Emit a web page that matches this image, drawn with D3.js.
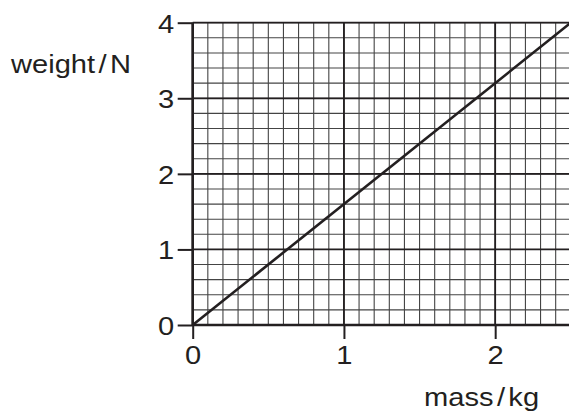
<!DOCTYPE html>
<html><head><meta charset="utf-8">
<script src="https://cdn.jsdelivr.net/npm/d3@7"></script>
<style>body{margin:0;background:#fff}svg{display:block}text{font-family:"Liberation Sans",Arial,sans-serif;fill:#231f20}</style>
</head><body>
<script>
const xTicks = [0, 1, 2];
const yTicks = [0, 1, 2, 3, 4];
const xDomain = [0, 2.5];
const yDomain = [0, 4];
const lineMass = [0, 2.5];
const lineWeight = [0, 4];
const xLabelParts = ["mass", "/", "kg"];
const yLabelParts = ["weight", "/", "N"];

const W = 569, H = 411;
const svg = d3.select("body").append("svg").attr("width", W).attr("height", H);
const x = d3.scaleLinear().domain(xDomain).range([192.7, 570.8]);
const y = d3.scaleLinear().domain(yDomain).range([325, 22.7]);
const ink = "#231f20";
const fs = 26, sx = 1.12;

// minor grid
const xMinor = d3.range(0, 2.5001, 0.1);
const yMinor = d3.range(0, 4.0001, 0.2);
const g = svg.append("g");
g.selectAll(".vx").data(xMinor).join("line")
  .attr("x1", d => x(d)).attr("x2", d => x(d)).attr("y1", y(0)).attr("y2", y(4))
  .attr("stroke", "#444").attr("stroke-width", 1.1);
g.selectAll(".hy").data(yMinor).join("line")
  .attr("x1", x(0)).attr("x2", x(2.5)).attr("y1", d => y(d)).attr("y2", d => y(d))
  .attr("stroke", "#444").attr("stroke-width", 1.1);
// major grid
g.selectAll(".mx").data(xTicks).join("line")
  .attr("x1", d => x(d)).attr("x2", d => x(d)).attr("y1", y(0)).attr("y2", y(4))
  .attr("stroke", ink).attr("stroke-width", 1.8);
g.selectAll(".my").data(yTicks).join("line")
  .attr("x1", x(0)).attr("x2", x(2.5)).attr("y1", d => y(d)).attr("y2", d => y(d))
  .attr("stroke", ink).attr("stroke-width", 1.8);

// axes
const xAxis = d3.axisBottom(x).tickValues(xTicks).tickSize(14).tickFormat(d3.format("d"));
const yAxis = d3.axisLeft(y).tickValues(yTicks).tickSize(15).tickFormat(d3.format("d"));
const gx = svg.append("g").attr("transform", `translate(0,${y(0)})`).call(xAxis);
const gy = svg.append("g").attr("transform", `translate(${x(0)},0)`).call(yAxis);
[gx, gy].forEach(a => {
  a.select(".domain").remove();
  a.selectAll(".tick line").attr("stroke", ink).attr("stroke-width", 2);
  a.selectAll("text").attr("font-size", fs).attr("fill", ink)
    .attr("font-family", '"Liberation Sans",Arial,sans-serif');
});
gx.selectAll(".tick text").attr("y", 0).attr("dy", null)
  .attr("transform", `translate(0,39) scale(${sx},1)`);
gy.selectAll(".tick text").attr("x", 0).attr("dy", null).attr("text-anchor", "end")
  .attr("transform", `translate(-18.5,9.5) scale(${sx},1)`);

// axis lines
svg.append("line").attr("x1", x(0)).attr("x2", x(0)).attr("y1", y(0)).attr("y2", y(4))
  .attr("stroke", ink).attr("stroke-width", 2.6);
svg.append("line").attr("x1", x(0)).attr("x2", x(2.5)).attr("y1", y(0)).attr("y2", y(0))
  .attr("stroke", ink).attr("stroke-width", 2.6);

// data line
const data = lineMass.map((m, i) => [m, lineWeight[i]]);
svg.append("path").datum(data)
  .attr("d", d3.line().x(d => x(d[0])).y(d => y(d[1])))
  .attr("stroke", ink).attr("stroke-width", 2.6).attr("fill", "none");

// axis titles
function title(parts, tx, ty) {
  const t = svg.append("text").attr("font-size", fs)
    .attr("transform", `translate(${tx},${ty}) scale(${sx},1)`);
  t.append("tspan").text(parts[0]);
  t.append("tspan").attr("dx", 3).text(parts[1]);
  t.append("tspan").attr("dx", 3).text(parts[2]);
}
title(yLabelParts, 11, 73);
title(xLabelParts, 424, 406);
</script>
</body></html>
